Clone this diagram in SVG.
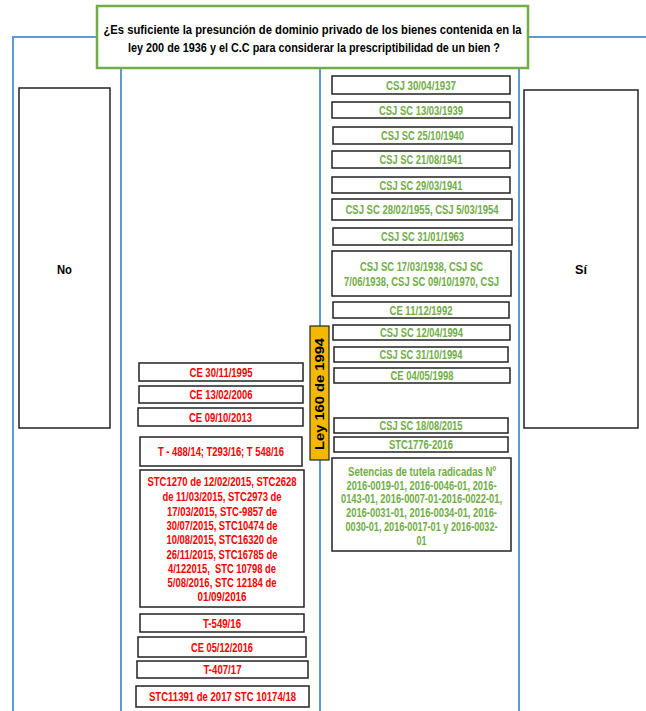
<svg xmlns="http://www.w3.org/2000/svg" width="646" height="711" viewBox="0 0 646 711">
<style>
text{font-family:"Liberation Sans",Arial,sans-serif;font-weight:bold;text-anchor:middle}
.box{fill:#fff;stroke:#222;stroke-width:1.5}
.g{fill:#70ad47;font-size:12px}
.r{fill:#ff0000;font-size:12px}
.k{fill:#000;font-size:13px}
.lane{stroke:#5b9bd5;stroke-width:2;fill:none}
</style>
<rect width="646" height="711" fill="#fff"/>
<g id="connectors">
<path class="lane" d="M13,711 V37 H646"/>
<path class="lane" d="M121,68 V711"/>
<path class="lane" d="M320,68 V711"/>
<path class="lane" d="M519,68 V711"/>
</g>
<g id="title">
<rect x="97" y="6" width="431" height="62" fill="#fff" stroke="#70ad47" stroke-width="2.5"/>
<text class="k" x="312.5" y="34" font-size="13.5" textLength="418" lengthAdjust="spacingAndGlyphs">¿Es suficiente la presunción de dominio privado de los bienes contenida en la</text>
<text class="k" x="314" y="52" font-size="13.5" textLength="372" lengthAdjust="spacingAndGlyphs">ley 200 de 1936 y el C.C para considerar la prescriptibilidad de un bien ?</text>
</g>
<g id="no"><rect class="box" x="19" y="88" width="91" height="340"/><text class="k" x="64.5" y="274" textLength="15" lengthAdjust="spacingAndGlyphs">No</text></g>
<g id="si"><rect class="box" x="524" y="90" width="114" height="338"/><text class="k" x="581" y="274" textLength="12" lengthAdjust="spacingAndGlyphs">Sí</text></g>
<g id="ley160">
<rect x="310" y="326" width="19" height="134" fill="#f5b800" stroke="#222" stroke-width="1.2"/>
<text class="k" transform="translate(324,394) rotate(-90)" x="0" y="0" font-size="13" textLength="112" lengthAdjust="spacingAndGlyphs">Ley 160 de 1994</text>
</g>
<g id="s1"><rect class="box" x="332" y="76" width="178" height="18"/><text class="g" x="421" y="89.5" textLength="70" lengthAdjust="spacingAndGlyphs">CSJ 30/04/1937</text></g>
<g id="s2"><rect class="box" x="332" y="102" width="178" height="16"/><text class="g" x="421" y="114.5" textLength="84" lengthAdjust="spacingAndGlyphs">CSJ SC 13/03/1939</text></g>
<g id="s3"><rect class="box" x="333" y="127" width="179" height="17"/><text class="g" x="422.5" y="140" textLength="83" lengthAdjust="spacingAndGlyphs">CSJ SC 25/10/1940</text></g>
<g id="s4"><rect class="box" x="332" y="151" width="178" height="17"/><text class="g" x="421" y="164" textLength="83" lengthAdjust="spacingAndGlyphs">CSJ SC 21/08/1941</text></g>
<g id="s5"><rect class="box" x="332" y="177" width="178" height="16"/><text class="g" x="421" y="189.5" textLength="83" lengthAdjust="spacingAndGlyphs">CSJ SC 29/03/1941</text></g>
<g id="s6"><rect class="box" x="332" y="199" width="180" height="21"/><text class="g" x="422" y="214" textLength="153" lengthAdjust="spacingAndGlyphs">CSJ SC 28/02/1955, CSJ 5/03/1954</text></g>
<g id="s7"><rect class="box" x="333" y="228" width="179" height="17"/><text class="g" x="422.5" y="241" textLength="83" lengthAdjust="spacingAndGlyphs">CSJ SC 31/01/1963</text></g>
<g id="s8"><rect class="box" x="332" y="251" width="179" height="45"/><text class="g" x="421.5" y="271" textLength="123" lengthAdjust="spacingAndGlyphs">CSJ SC 17/03/1938, CSJ SC</text><text class="g" x="421.5" y="285.5" textLength="155" lengthAdjust="spacingAndGlyphs">7/06/1938, CSJ SC 09/10/1970, CSJ</text></g>
<g id="s9"><rect class="box" x="333" y="302" width="176" height="16"/><text class="g" x="421" y="314.5" textLength="63" lengthAdjust="spacingAndGlyphs">CE 11/12/1992</text></g>
<g id="s10"><rect class="box" x="333" y="325" width="177" height="15"/><text class="g" x="421.5" y="337" textLength="83" lengthAdjust="spacingAndGlyphs">CSJ SC 12/04/1994</text></g>
<g id="s11"><rect class="box" x="334" y="347" width="174" height="15"/><text class="g" x="421" y="359" textLength="83" lengthAdjust="spacingAndGlyphs">CSJ SC 31/10/1994</text></g>
<g id="s12"><rect class="box" x="334" y="368" width="176" height="15"/><text class="g" x="422" y="380" textLength="63" lengthAdjust="spacingAndGlyphs">CE 04/05/1998</text></g>
<g id="s13"><rect class="box" x="334" y="418" width="174" height="15"/><text class="g" x="421" y="430" textLength="83" lengthAdjust="spacingAndGlyphs">CSJ SC 18/08/2015</text></g>
<g id="s14"><rect class="box" x="334" y="437" width="174" height="15"/><text class="g" x="421" y="449" textLength="64" lengthAdjust="spacingAndGlyphs">STC1776-2016</text></g>
<g id="s15"><rect class="box" x="332" y="458" width="179" height="93"/>
<text class="g" x="422" y="476" textLength="148" lengthAdjust="spacingAndGlyphs">Setencias de tutela radicadas Nº</text>
<text class="g" x="421.5" y="489.5" textLength="150" lengthAdjust="spacingAndGlyphs">2016-0019-01, 2016-0046-01, 2016-</text>
<text class="g" x="421.5" y="503" textLength="161" lengthAdjust="spacingAndGlyphs">0143-01, 2016-0007-01-2016-0022-01,</text>
<text class="g" x="421.5" y="517" textLength="151" lengthAdjust="spacingAndGlyphs">2016-0031-01, 2016-0034-01, 2016-</text>
<text class="g" x="421.5" y="531" textLength="152" lengthAdjust="spacingAndGlyphs">0030-01, 2016-0017-01 y 2016-0032-</text>
<text class="g" x="421.5" y="545" textLength="10" lengthAdjust="spacingAndGlyphs">01</text></g>
<g id="n1"><rect class="box" x="139" y="363" width="164" height="18"/><text class="r" x="221" y="376.5" textLength="63" lengthAdjust="spacingAndGlyphs">CE 30/11/1995</text></g>
<g id="n2"><rect class="box" x="139" y="386" width="164" height="17"/><text class="r" x="221" y="399" textLength="63" lengthAdjust="spacingAndGlyphs">CE 13/02/2006</text></g>
<g id="n3"><rect class="box" x="138" y="408" width="165" height="18"/><text class="r" x="220.5" y="421.5" textLength="63" lengthAdjust="spacingAndGlyphs">CE 09/10/2013</text></g>
<g id="n4"><rect class="box" x="140" y="437" width="162" height="29"/><text class="r" x="221" y="456" textLength="126" lengthAdjust="spacingAndGlyphs">T - 488/14; T293/16; T 548/16</text></g>
<g id="n5"><rect class="box" x="140" y="470" width="164" height="137"/>
<text class="r" x="222" y="486" textLength="149" lengthAdjust="spacingAndGlyphs">STC1270 de 12/02/2015, STC2628</text>
<text class="r" x="222" y="501" textLength="119" lengthAdjust="spacingAndGlyphs">de 11/03/2015, STC2973 de</text>
<text class="r" x="222" y="515.5" textLength="110" lengthAdjust="spacingAndGlyphs">17/03/2015, STC-9857 de</text>
<text class="r" x="222" y="530" textLength="111" lengthAdjust="spacingAndGlyphs">30/07/2015, STC10474 de</text>
<text class="r" x="222" y="544" textLength="111" lengthAdjust="spacingAndGlyphs">10/08/2015, STC16320 de</text>
<text class="r" x="222" y="558.5" textLength="111" lengthAdjust="spacingAndGlyphs">26/11/2015, STC16785 de</text>
<text class="r" x="222" y="572.5" xml:space="preserve" textLength="108" lengthAdjust="spacingAndGlyphs">4/122015,  STC 10798 de</text>
<text class="r" x="222" y="586.5" textLength="109" lengthAdjust="spacingAndGlyphs">5/08/2016, STC 12184 de</text>
<text class="r" x="222" y="601" textLength="49" lengthAdjust="spacingAndGlyphs">01/09/2016</text></g>
<g id="n6"><rect class="box" x="140" y="614" width="164" height="18"/><text class="r" x="222" y="627.5" textLength="38" lengthAdjust="spacingAndGlyphs">T-549/16</text></g>
<g id="n7"><rect class="box" x="138" y="637" width="168" height="20"/><text class="r" x="222" y="651.5" textLength="62" lengthAdjust="spacingAndGlyphs">CE 05/12/2016</text></g>
<g id="n8"><rect class="box" x="137" y="661" width="171" height="17"/><text class="r" x="222.5" y="674" textLength="38" lengthAdjust="spacingAndGlyphs">T-407/17</text></g>
<g id="n9"><rect class="box" x="136" y="686" width="173" height="21"/><text class="r" x="222.5" y="701" textLength="147" lengthAdjust="spacingAndGlyphs">STC11391 de 2017 STC 10174/18</text></g>
</svg>
